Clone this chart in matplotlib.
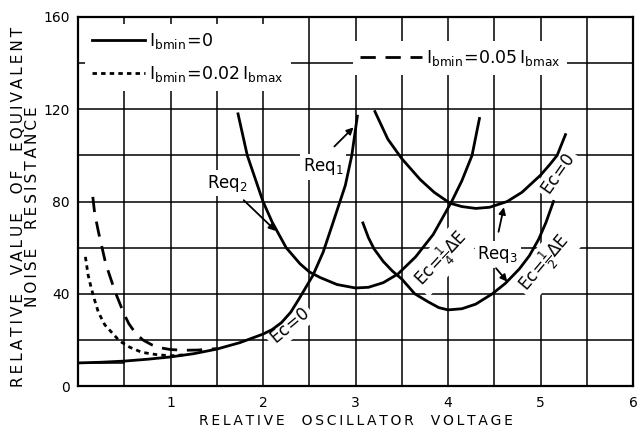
import matplotlib.pyplot as plt
from matplotlib.ticker import MultipleLocator

plt.rcParams["font.family"] = ["DejaVu Sans"]
plt.rcParams["mathtext.fontset"] = "dejavusans"

# Ec = 0 curve for the three minimum plate-current cases
req1_x = [0, 0.25, 0.5, 0.75, 1.0, 1.25, 1.5, 1.75, 2.0, 2.1, 2.2, 2.3, 2.39, 2.54, 2.65, 2.75, 2.89, 2.96, 3.02]
req1_y = [10, 10.3, 10.8, 11.6, 12.6, 14.0, 16.0, 18.8, 22.5, 24.5, 27.5, 32, 37.8, 48, 58, 70, 87, 100, 117]

dot_x = [0.08, 0.11, 0.14, 0.17, 0.22, 0.29, 0.37, 0.45, 0.56, 0.69, 0.85, 1.0, 1.15]
dot_y = [56, 48, 43, 38.5, 32, 26.5, 23, 19.5, 16.8, 14.6, 13.6, 13.1, 13.5]

dash_x = [0.16, 0.18, 0.22, 0.26, 0.30, 0.35, 0.40, 0.45, 0.50, 0.55, 0.62, 0.70, 0.80, 0.90, 1.0, 1.15, 1.3, 1.5]
dash_y = [82, 75, 67, 60, 53, 47, 41, 36, 31, 27, 23, 20, 17.8, 16.5, 15.8, 15.5, 15.6, 16.2]

# Req2 (Ec = 1/4 dE), Req3 (Ec = 0 and Ec = 1/2 dE)
req2_x = [1.73, 1.83, 2.0, 2.1, 2.25, 2.4, 2.5, 2.62, 2.8, 3.0, 3.14, 3.3, 3.46, 3.65, 3.84, 4.04, 4.15, 4.26, 4.34]
req2_y = [118, 100, 80, 71, 60, 53, 49.5, 47, 44, 42.5, 42.8, 44.8, 48.6, 56, 65.7, 80, 89, 100, 116]

req3a_x = [3.21, 3.35, 3.5, 3.7, 3.85, 4.02, 4.15, 4.3, 4.45, 4.64, 4.8, 5.0, 5.1, 5.18, 5.27]
req3a_y = [119, 107, 98.6, 89.5, 84, 79.3, 77.8, 77, 77.5, 80, 84, 91.4, 96, 100, 109]

req3b_x = [3.08, 3.14, 3.2, 3.3, 3.4, 3.5, 3.64, 3.79, 3.9, 4.0, 4.15, 4.3, 4.48, 4.62, 4.77, 4.88, 4.98, 5.06, 5.14]
req3b_y = [70.7, 64.3, 59.5, 54, 49.8, 46.4, 40, 36.4, 34, 33, 33.5, 35.5, 40, 44.5, 50.7, 56.5, 63.6, 71, 80]

x_ticks = [1, 2, 3, 4, 5, 6]
y_ticks = [0, 40, 80, 120, 160]


def spaced(text, gap="\u2009"):
    return gap.join(text)


fig = plt.figure(figsize=(6.39, 4.33), dpi=100)
ax = fig.add_axes([78 / 639, 1 - 386 / 433, 555 / 639, 369 / 433])

ax.set_xlim(0, 6)
ax.set_ylim(0, 160)
ax.set_xticks(x_ticks)
ax.set_yticks(y_ticks)
ax.xaxis.set_minor_locator(MultipleLocator(0.5))
ax.yaxis.set_minor_locator(MultipleLocator(20))
ax.tick_params(which="both", length=0, labelsize=10)
ax.tick_params(axis="x", pad=7)
ax.tick_params(axis="y", pad=6)
ax.grid(which="both", color="black", linewidth=1.1)
ax.set_axisbelow(True)
ax.plot([0, 0.5], [10, 10], color="black", linewidth=1.1, zorder=0.6)
for sp in ax.spines.values():
    sp.set_linewidth(1.6)

lw = 2.0
solid, = ax.plot(req1_x, req1_y, color="black", lw=lw, zorder=3,
                 label=r"$\mathrm{I}_{\mathrm{bmin}}\!=\!0$")
dotted, = ax.plot(dot_x, dot_y, color="black", lw=lw, zorder=3, dashes=(1.6, 1.5),
                  label=r"$\mathrm{I}_{\mathrm{bmin}}\!=\!0.02\,\mathrm{I}_{\mathrm{bmax}}$")
dashed, = ax.plot(dash_x, dash_y, color="black", lw=lw, zorder=3, dashes=(5.5, 3.5),
                  label=r"$\mathrm{I}_{\mathrm{bmin}}\!=\!0.05\,\mathrm{I}_{\mathrm{bmax}}$")
ax.plot(req2_x, req2_y, color="black", lw=lw, zorder=3)
ax.plot(req3a_x, req3a_y, color="black", lw=lw, zorder=3)
ax.plot(req3b_x, req3b_y, color="black", lw=lw, zorder=3)

leg_kw = dict(frameon=True, fancybox=False, framealpha=1, edgecolor="none",
              facecolor="white", fontsize=12.5, handletextpad=0.2, borderaxespad=0)
leg1 = ax.legend(handles=[solid, dotted], loc="upper left", bbox_to_anchor=(0.012, 0.98),
                 handlelength=3.1, labelspacing=0.75, borderpad=0.4, **leg_kw)
ax.add_artist(leg1)
ax.legend(handles=[dashed], loc="upper left", bbox_to_anchor=(0.495, 0.935),
          handlelength=3.6, borderpad=0.4, **leg_kw)

box = dict(facecolor="white", edgecolor="none", pad=2)
txt = dict(fontsize=12, ha="center", va="center", zorder=2, bbox=box)

ax.text(2.65, 95, r"$\mathrm{Req}_{1}$", **txt)
ax.text(1.61, 88, r"$\mathrm{Req}_{2}$", **txt)
ax.text(4.54, 57, r"$\mathrm{Req}_{3}$", **txt)

ax.text(2.29, 26, r"$\mathrm{Ec}\!=\!0$", rotation=40, **txt)
ax.text(3.93, 55, r"$\mathrm{Ec}\!=\!\frac{1}{4}\Delta\mathrm{E}$", rotation=47, **txt)
ax.text(5.05, 53, r"$\mathrm{Ec}\!=\!\frac{1}{2}\Delta\mathrm{E}$", rotation=50, **txt)
ax.text(5.19, 92, r"$\mathrm{Ec}\!=\!0$", rotation=55, **txt)

arrow = dict(arrowstyle="-|>", color="black", lw=1.3, mutation_scale=10)
ax.annotate("", xy=(3.0, 113), xytext=(2.75, 103), arrowprops=arrow, zorder=4)
ax.annotate("", xy=(2.16, 66.4), xytext=(1.77, 81.4), arrowprops=arrow, zorder=4)
ax.annotate("", xy=(4.61, 78.7), xytext=(4.54, 65.7), arrowprops=arrow, zorder=4)
ax.annotate("", xy=(4.66, 44.3), xytext=(4.5, 52), arrowprops=arrow, zorder=4)

ax.set_xlabel(spaced("RELATIVE  OSCILLATOR  VOLTAGE"), fontsize=10, labelpad=3)
ax.set_ylabel(spaced("RELATIVE  VALUE  OF  EQUIVALENT") + "\n"
              + spaced("NOISE  RESISTANCE"), fontsize=11, linespacing=0.95)
ax.yaxis.set_label_coords(-0.068, 0.485)

fig.savefig("out.png", dpi=100)
